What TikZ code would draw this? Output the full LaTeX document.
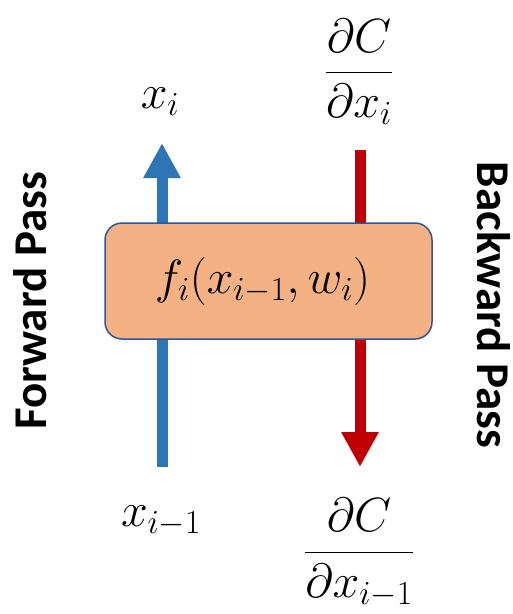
\documentclass[tikz,border=0pt]{standalone}
\usepackage{fix-cm}
\usepackage{amsmath}
\usepackage{fontspec}
\setsansfont{Carlito}
\usetikzlibrary{arrows.meta,positioning}
\definecolor{FwdBlue}{HTML}{2E75B6}
\definecolor{BwdRed}{HTML}{C00000}
\definecolor{Peach}{HTML}{F4B183}
\definecolor{Edge}{HTML}{2F5597}
\tikzset{
  layer/.style={
    rounded corners=17pt, draw=Edge, line width=1.5pt, fill=Peach,
    minimum width=327pt, minimum height=116pt, align=center,
    font=\fontsize{48}{56}\selectfont
  },
  var/.style={inner sep=0pt, font=\fontsize{48}{56}\selectfont},
  passlabel/.style={inner sep=0pt, font=\fontsize{47}{56}\selectfont\sffamily\bfseries},
  fwdflow/.style={-{Triangle[length=35pt,width=35pt]}, line width=11pt, draw=FwdBlue, fill=FwdBlue},
  bwdflow/.style={-{Triangle[length=35pt,width=35pt]}, line width=11pt, draw=BwdRed, fill=BwdRed}
}
\begin{document}
\begin{tikzpicture}[x=1pt,y=-1pt]
    \useasboundingbox (0,0) rectangle (513,614);
    % arrow ends
    \coordinate (fwdin) at (162,467);
    \coordinate (fwdout) at (162,143);
    \coordinate (bwdin) at (360,150);
    \coordinate (bwdout) at (360,467);
    \draw[fwdflow] (fwdin)--(fwdout);
    \draw[bwdflow] (bwdin)--(bwdout);
    % layer
    \node[layer] (func) at (268.5,281) {$f_i(x_{i-1},w_i)$\hspace*{12pt}};
    % labels
    \node[var] (xout) at (160,102) {$x_i$};
    \node[var] (gradout) at (359,72) {$\dfrac{\partial C}{\partial x_i}$};
    \node[var] (xin) at (161,521) {$x_{i-1}$};
    \node[var] (gradin) at (359,553) {$\dfrac{\partial C}{\partial x_{i-1}}$};
    \node[passlabel,rotate=90] (fwd) at (30,301) {Forward Pass};
    \node[passlabel,rotate=-90] (bwd) at (494,305) {Backward Pass};
  \end{tikzpicture}
\end{document}
